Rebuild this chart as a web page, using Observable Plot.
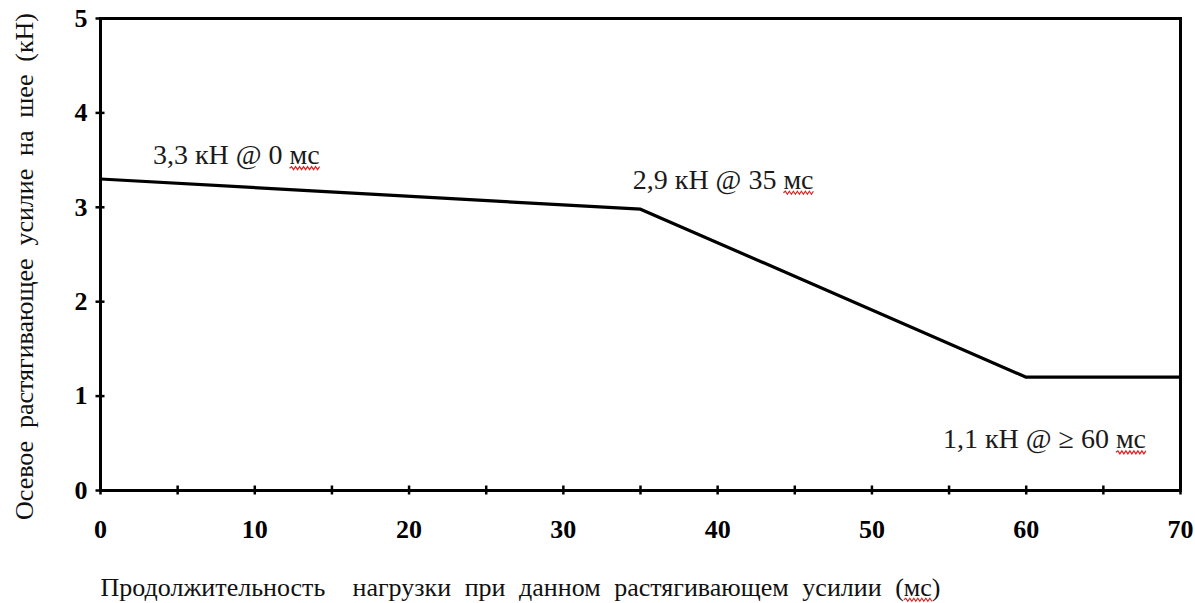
<!DOCTYPE html>
<html>
<head>
<meta charset="utf-8">
<script src="https://cdn.jsdelivr.net/npm/d3@7"></script>
<script src="https://cdn.jsdelivr.net/npm/@observablehq/plot@0.6"></script>
<style>
  html, body { margin: 0; padding: 0; background: white; }
  #chart svg { display: block; }
  .axis-title text { white-space: pre; }
</style>
</head>
<body>
<div id="chart"></div>
<script>
// Data
const durationMs = [0, 35, 60, 70];
const forceKN = [3.30, 2.98, 1.20, 1.20];

const xTickValues = [0, 10, 20, 30, 40, 50, 60, 70];
const xMinorTicks = [0, 5, 10, 15, 20, 25, 30, 35, 40, 45, 50, 55, 60, 65, 70];
const yTickValues = [0, 1, 2, 3, 4, 5];

const annotationText = ["3,3 кН @ 0 мс", "2,9 кН @ 35 мс", "1,1 кН @ ≥ 60 мс"];
const annotationX = [3.4, 34.5, 54.6];
const annotationY = [3.55, 3.29, 0.54];

const xTitle = "Продолжительность  нагрузки при данном растягивающем усилии (мс)";
const yTitle = "Осевое растягивающее усилие на шее (кН)";

const series = durationMs.map((d, i) => ({t: d, f: forceKN[i]}));
const annotations = annotationText.map((s, i) => ({x: annotationX[i], y: annotationY[i], text: s}));

const chart = Plot.plot({
  width: 1195,
  height: 603,
  marginLeft: 100,
  marginRight: 15,
  marginTop: 18,
  marginBottom: 113,
  style: {fontFamily: "'Liberation Serif', 'Times New Roman', serif", background: "white", color: "black"},
  x: {domain: [0, 70]},
  y: {domain: [0, 5]},
  marks: [
    Plot.ruleX(xMinorTicks, {x: d => d, y1: 0, y2: 0, insetTop: -4.5, insetBottom: -4.5, stroke: "black", strokeWidth: 2.5}),
    Plot.ruleY(yTickValues, {y: d => d, x1: 0, x2: 0, insetLeft: -4.5, insetRight: -4.5, stroke: "black", strokeWidth: 2.5}),
    Plot.frame({stroke: "black", strokeWidth: 3}),
    Plot.axisX({ticks: xTickValues, tickSize: 0, tickPadding: 29, fontSize: 26, fontWeight: "bold", label: null, tickFormat: d => String(d)}),
    Plot.axisY({ticks: yTickValues, tickSize: 0, tickPadding: 13, fontSize: 26, fontWeight: "bold", label: null, tickFormat: d => String(d)}),
    Plot.line(series, {x: "t", y: "f", stroke: "black", strokeWidth: 3.2}),
    Plot.text(annotations, {x: "x", y: "y", text: "text", textAnchor: "start", fontSize: 28, fill: "#1a1a1a", className: "annot"}),
    Plot.text([xTitle], {frameAnchor: "bottom", textAnchor: "middle", lineAnchor: "middle", dx: -120, dy: 97, fontSize: 26, fill: "#111", className: "axis-title xt"}),
    Plot.text([yTitle], {frameAnchor: "left", textAnchor: "middle", lineAnchor: "middle", dx: -76, dy: 12, rotate: -90, fontSize: 26, fill: "#111", className: "axis-title yt"})
  ]
});
document.getElementById("chart").appendChild(chart);

// Widen word gaps of the axis titles to the spread seen in the reference
function spreadWords(el, target) {
  if (!el) return;
  const natural = el.getComputedTextLength();
  const spaces = (el.textContent.match(/ /g) || []).length;
  if (spaces > 0 && natural < target) el.style.wordSpacing = ((target - natural) / spaces) + "px";
  else if (natural > target) el.setAttribute("font-size", 26 * target / natural);
}
spreadWords(chart.querySelector(".xt text"), 840);
spreadWords(chart.querySelector(".yt text"), 507);

// Red spell-check squiggle under "мс", as in the reference
function squiggle(el) {
  const s = el.textContent;
  const k = s.lastIndexOf("мс");
  if (k < 0) return;
  const a = el.getExtentOfChar(k), b = el.getExtentOfChar(k + 1);
  const x0 = a.x, x1 = b.x + b.width;
  const y0 = a.y + a.height * 0.93;
  let d = `M${x0},${y0}`;
  let up = true;
  for (let x = x0 + 2; x <= x1 + 0.01; x += 2) { d += `L${x},${y0 + (up ? -1.5 : 1.5)}`; up = !up; }
  const p = document.createElementNS("http://www.w3.org/2000/svg", "path");
  p.setAttribute("d", d);
  p.setAttribute("fill", "none");
  p.setAttribute("stroke", "#e02020");
  p.setAttribute("stroke-width", "1.2");
  const t = el.getAttribute("transform");
  if (t) p.setAttribute("transform", t);
  el.parentNode.appendChild(p);
}
chart.querySelectorAll(".annot text").forEach(squiggle);
chart.querySelectorAll(".xt text").forEach(squiggle);
</script>
</body>
</html>
